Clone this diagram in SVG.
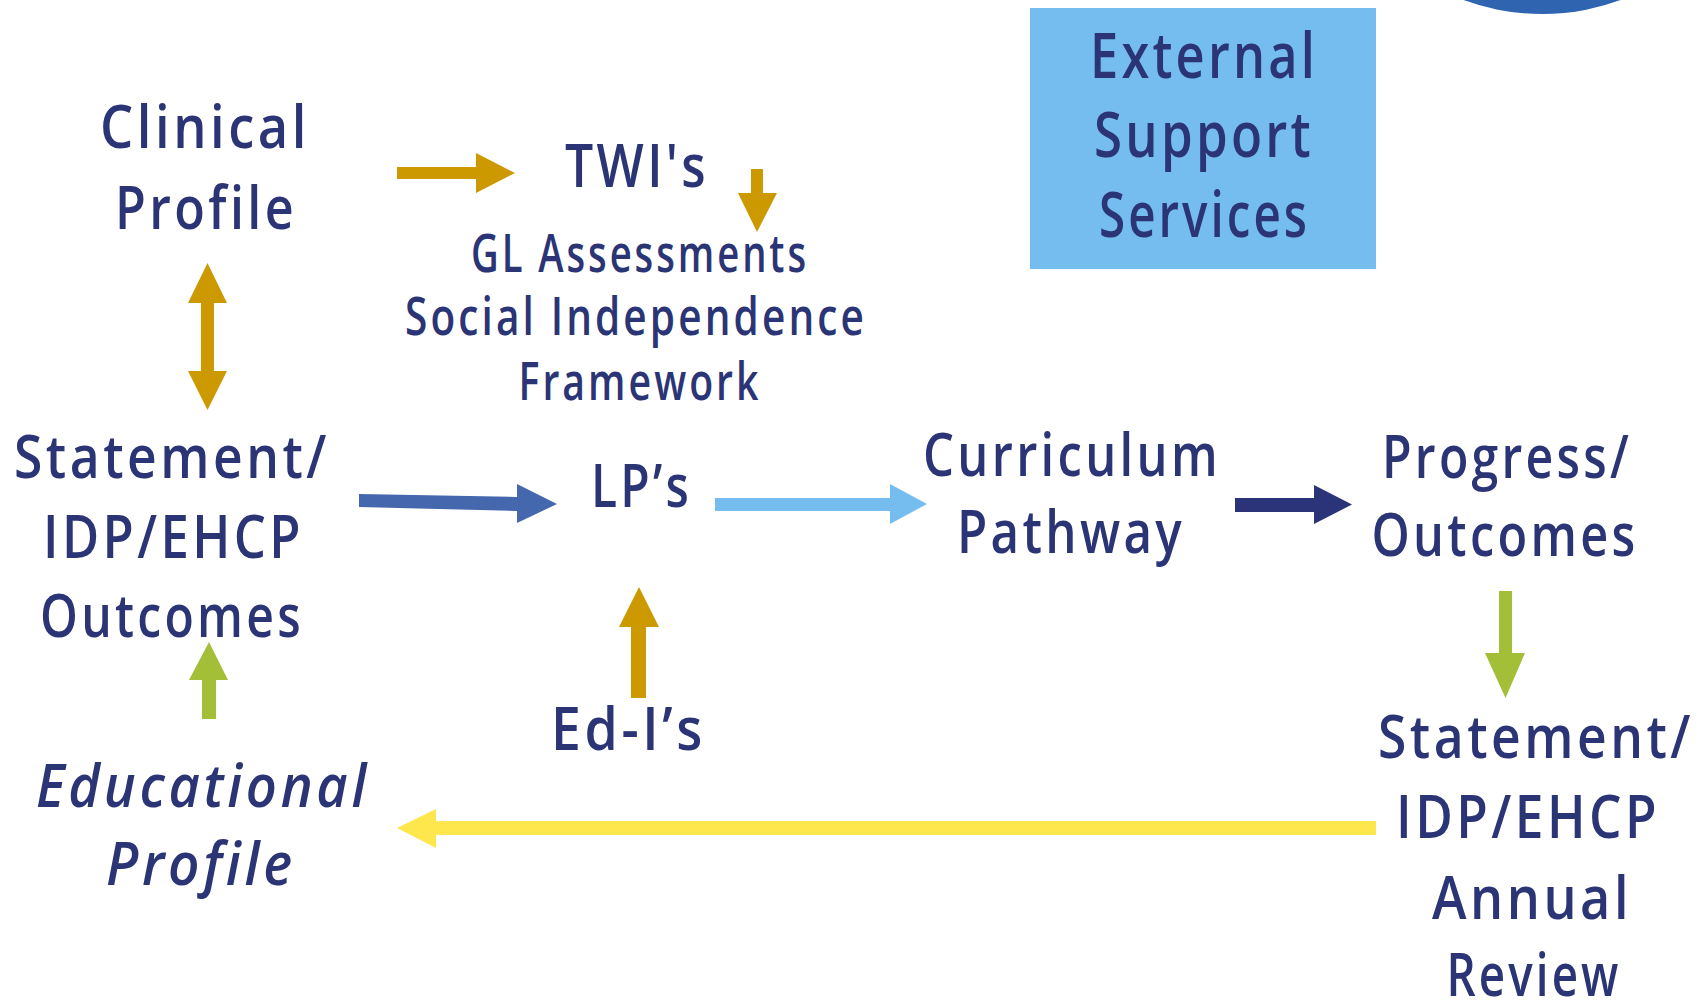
<svg xmlns="http://www.w3.org/2000/svg" width="1706" height="1004" viewBox="0 0 1706 1004">
<style>
.t{font-family:"Open Sans","Noto Sans","DejaVu Sans",sans-serif;font-weight:600;fill:#2B3576;text-anchor:middle;font-size:59px;letter-spacing:4px}
.s{font-size:52px}
.x{font-size:63px}
.i{font-style:italic}
.gold{fill:#CC9900}
.green{fill:#A3BE37}
</style>
<rect width="1706" height="1004" fill="#FFFFFF"/>
<circle cx="1542" cy="-213" r="227" fill="#2F64B0"/>

<g id="connectors">
<polygon class="gold" points="397,167 476,167 476,153 515,173 476,193 476,179 397,179"/>
<polygon class="gold" points="751,169 763,169 763,193 777,193 757,232 738,193 751,193"/>
<polygon class="gold" points="207.5,263 227,303 214,303 214,371 227,371 207.5,410 188,371 201,371 201,303 188,303"/>
<polygon fill="#4567AD" points="359,494 517,497 517,484 557,504 517,523 517,511 359,507"/>
<polygon fill="#75BDEE" points="715,498 890,498 890,484 927,504 890,524 890,511 715,511"/>
<polygon fill="#2B3478" points="1235,498 1314,498 1314,485 1352,504.5 1314,524 1314,512 1235,512"/>
<polygon class="green" points="1499,591 1512,591 1512,653 1525,653 1505.5,698 1485,653 1499,653"/>
<polygon class="green" points="202,719 216,719 216,680 228,680 209,642 189,680 202,680"/>
<polygon class="gold" points="631,698 646,698 646,627 659,627 639,587 619,627 631,627"/>
<polygon fill="#FDE74C" points="1376,821 436,821 436,809 397,828 436,848 436,835 1376,835"/>
</g>

<g id="clinical-profile">
<text class="t" x="205" y="148" textLength="210" lengthAdjust="spacingAndGlyphs">Clinical</text>
<text class="t" x="206" y="229" textLength="182" lengthAdjust="spacingAndGlyphs">Profile</text>
</g>
<g id="twis">
<text class="t" x="637" y="187" textLength="144" lengthAdjust="spacingAndGlyphs">TWI's</text>
</g>
<g id="assessments">
<text class="t s" x="640" y="272" textLength="338" lengthAdjust="spacingAndGlyphs">GL Assessments</text>
<text class="t s" x="636" y="335" textLength="462" lengthAdjust="spacingAndGlyphs">Social Independence</text>
<text class="t s" x="640" y="400" textLength="243" lengthAdjust="spacingAndGlyphs">Framework</text>
</g>
<g id="external-support">
<rect x="1030" y="8" width="346" height="261" fill="#75BDEE"/>
<text class="t x" x="1204" y="78" textLength="228" lengthAdjust="spacingAndGlyphs">External</text>
<text class="t x" x="1204" y="157" textLength="220" lengthAdjust="spacingAndGlyphs">Support</text>
<text class="t x" x="1204.5" y="237" textLength="211" lengthAdjust="spacingAndGlyphs">Services</text>
</g>
<g id="statement-outcomes">
<text class="t" x="172" y="478" textLength="316" lengthAdjust="spacingAndGlyphs">Statement/</text>
<text class="t" x="173.5" y="558" textLength="261" lengthAdjust="spacingAndGlyphs">IDP/EHCP</text>
<text class="t" x="172" y="637" textLength="264" lengthAdjust="spacingAndGlyphs">Outcomes</text>
</g>
<g id="lps">
<text class="t" x="641.5" y="507" textLength="101" lengthAdjust="spacingAndGlyphs">LP’s</text>
</g>
<g id="edis">
<text class="t" x="628.5" y="750" textLength="155" lengthAdjust="spacingAndGlyphs">Ed-I’s</text>
</g>
<g id="educational-profile">
<text class="t i" x="203" y="807" textLength="334" lengthAdjust="spacingAndGlyphs">Educational</text>
<text class="t i" x="201" y="885" textLength="190" lengthAdjust="spacingAndGlyphs">Profile</text>
</g>
<g id="curriculum-pathway">
<text class="t" x="1072" y="476" textLength="298" lengthAdjust="spacingAndGlyphs">Curriculum</text>
<text class="t" x="1071" y="553" textLength="228" lengthAdjust="spacingAndGlyphs">Pathway</text>
</g>
<g id="progress-outcomes">
<text class="t" x="1507" y="478" textLength="250" lengthAdjust="spacingAndGlyphs">Progress/</text>
<text class="t" x="1505" y="556" textLength="267" lengthAdjust="spacingAndGlyphs">Outcomes</text>
</g>
<g id="annual-review">
<text class="t" x="1536" y="758" textLength="316" lengthAdjust="spacingAndGlyphs">Statement/</text>
<text class="t" x="1528" y="838" textLength="264" lengthAdjust="spacingAndGlyphs">IDP/EHCP</text>
<text class="t" x="1532" y="919" textLength="200" lengthAdjust="spacingAndGlyphs">Annual</text>
<text class="t" x="1534" y="996" textLength="175" lengthAdjust="spacingAndGlyphs">Review</text>
</g>
</svg>
